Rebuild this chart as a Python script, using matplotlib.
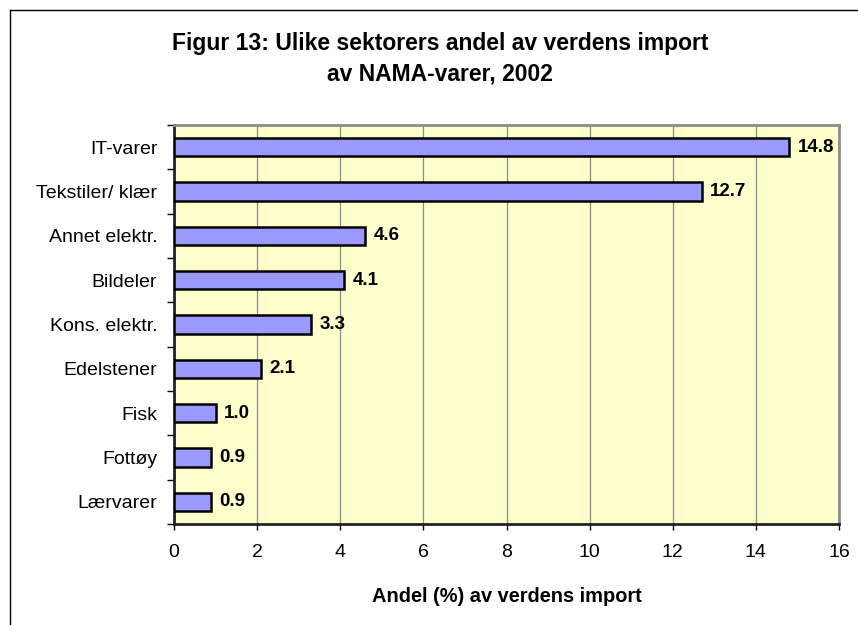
import matplotlib
matplotlib.use("Agg")
import matplotlib.pyplot as plt
from matplotlib.lines import Line2D

plt.rcParams['font.family'] = ['Liberation Sans', 'DejaVu Sans']

# data (top to bottom)
sectors = ["IT-varer", "Tekstiler/ klær", "Annet elektr.", "Bildeler",
           "Kons. elektr.", "Edelstener", "Fisk", "Fottøy", "Lærvarer"]
shares = [14.8, 12.7, 4.6, 4.1, 3.3, 2.1, 1.0, 0.9, 0.9]
x_ticks = [0, 2, 4, 6, 8, 10, 12, 14, 16]

W, H = 858, 625
fig = plt.figure(figsize=(W / 100, H / 100), dpi=100)
ax = fig.add_axes([174 / W, 1 - 524 / H, (839 - 174) / W, (524 - 125) / H])

# chart border (only left and top are visible in the crop)
fig.add_artist(Line2D([10 / W, 10 / W], [0, 1 - 10 / H], transform=fig.transFigure,
                      color="black", lw=1.0))
fig.add_artist(Line2D([10 / W, 1], [1 - 10 / H, 1 - 10 / H], transform=fig.transFigure,
                      color="black", lw=1.0))

ax.set_facecolor("#FFFFCC")
ypos = list(range(len(sectors)))
ax.barh(ypos, shares, height=0.42, color="#9999FF", edgecolor="black", linewidth=1.8, zorder=3)

for y, v in zip(ypos, shares):
    ax.annotate(f"{v:.1f}", (v, y), xytext=(6, 0), textcoords="offset points",
                va="center", ha="left", fontsize=13.5, fontweight="bold")

ax.set_ylim(len(sectors) - 0.5, -0.5)
ax.set_xlim(0, 16)
ax.set_xticks(x_ticks)
ax.set_xticklabels([str(t) for t in x_ticks], fontsize=14)
ax.set_yticks(ypos)
ax.set_yticklabels(sectors, fontsize=14)
ax.set_yticks([y + 0.5 for y in range(-1, len(sectors))], minor=True)
ax.tick_params(axis="y", which="major", length=0, pad=12)
ax.tick_params(axis="y", which="minor", length=5, width=1, direction="out")
ax.tick_params(axis="x", length=4.5, width=1, direction="out", pad=10)

ax.grid(axis="x", color="#8c8c8c", linewidth=0.9, zorder=0)
ax.set_axisbelow(True)

for side in ["top", "right"]:
    ax.spines[side].set_color("#8c8c8c")
    ax.spines[side].set_linewidth(2)
for side in ["left", "bottom"]:
    ax.spines[side].set_color("#222222")
    ax.spines[side].set_linewidth(2)

ax.set_xlabel("Andel (%) av verdens import", fontsize=14.4, fontweight="bold")
ax.xaxis.set_label_coords(0.5, (524 - 587) / 399)

fig.text(440 / W, 1 - 50 / H, "Figur 13: Ulike sektorers andel av verdens import",
         ha="center", va="baseline", fontsize=16.5, fontweight="bold")
fig.text(440 / W, 1 - 81 / H, "av NAMA-varer, 2002",
         ha="center", va="baseline", fontsize=16.5, fontweight="bold")

fig.savefig("out.png", dpi=100, facecolor="white")
